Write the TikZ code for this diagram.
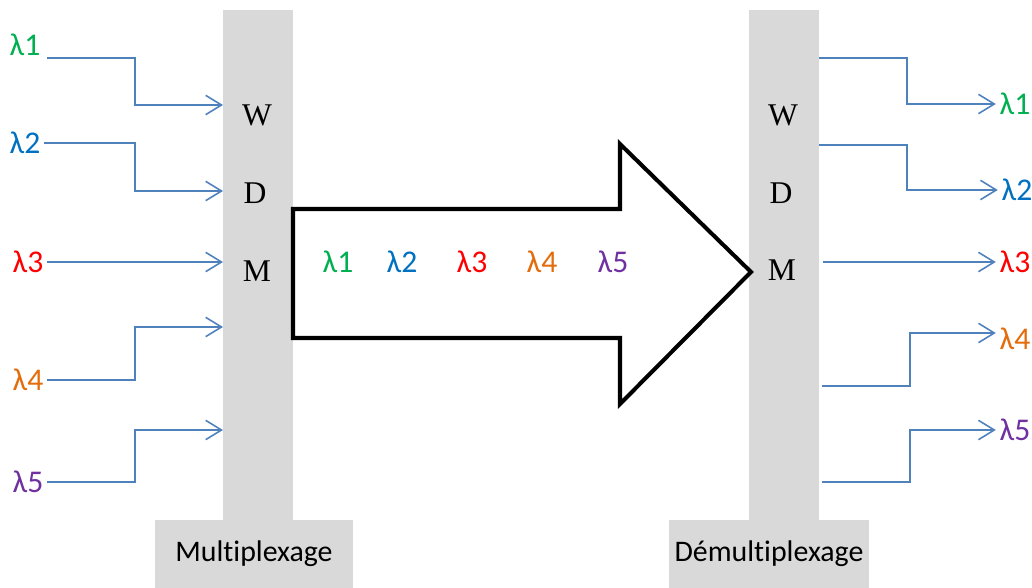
\documentclass[tikz,border=0pt]{standalone}
\usepackage{fontspec}
\setmainfont[Ligatures=NoCommon]{Carlito}
\newfontfamily\wdmfont{Liberation Serif}
\usetikzlibrary{arrows.meta, positioning}
\definecolor{fibreblue}{RGB}{79,129,189}
\definecolor{bargray}{RGB}{217,217,217}
\definecolor{lamone}{RGB}{0,176,80}
\definecolor{lamtwo}{RGB}{0,112,192}
\definecolor{lamthree}{RGB}{255,0,0}
\definecolor{lamfour}{RGB}{228,108,10}
\definecolor{lamfive}{RGB}{112,48,160}

\begin{document}
\begin{tikzpicture}[x=0.02cm,y=-0.02cm,
  fibre/.style={fibreblue,line width=0.9pt,-{Straight Barb[length=9pt,width=11pt]}},
  bar/.style={fill=bargray,inner sep=0pt,minimum width=1.4cm,minimum height=10.2cm},
  foot/.style={fill=bargray,inner sep=0pt,minimum height=1.36cm,font=\fontsize{17}{19}\selectfont},
  lam/.style={font=\fontsize{18}{20}\selectfont,inner sep=2pt},
  letter/.style={font=\wdmfont\fontsize{18}{20}\selectfont}]
\useasboundingbox (0,0) rectangle (1032,588);

% Multiplexer bar
\node[bar] (mux) at (258,265) {};
\node[foot,minimum width=3.96cm] (muxfoot) at (254,554) {Multiplexage};
\node[letter] (mw) at (257,115) {W};
\node[letter] (md) at (255,193) {D};
\node[letter] (mm) at (257,271) {M};

% Demultiplexer bar
\node[bar] (dmx) at (784,265) {};
\node[foot,minimum width=4cm] (dmxfoot) at (769,554) {Démultiplexage};
\node[letter] (dw) at (783,115) {W};
\node[letter] (dd) at (781,193) {D};
\node[letter] (dm) at (782,270) {M};

% Inputs
\node[lam,text=lamone]   (in1) at (25,45)  {λ1};
\node[lam,text=lamtwo]   (in2) at (25,143) {λ2};
\node[lam,text=lamthree] (in3) at (28,262) {λ3};
\node[lam,text=lamfour]  (in4) at (28,380) {λ4};
\node[lam,text=lamfive]  (in5) at (28,482) {λ5};
\coordinate (s1) at (47,58);
\coordinate (m1) at (223,105);
\coordinate (m2) at (223,191);
\coordinate (m3) at (223,262);
\coordinate (m4) at (223,327);
\coordinate (m5) at (223,430);
\draw[fibre] (s1) -| (135,105) -- (m1);
\draw[fibre] (in2.east) -| (135,191) -- (m2);
\draw[fibre] (in3.east) -- (m3);
\draw[fibre] (in4.east) -| (135,327) -- (m4);
\draw[fibre] (in5.east) -| (135,430) -- (m5);

% Outputs
\node[lam,text=lamone]   (out1) at (1015,104) {λ1};
\node[lam,text=lamtwo]   (out2) at (1017,190) {λ2};
\node[lam,text=lamthree] (out3) at (1015,262) {λ3};
\node[lam,text=lamfour]  (out4) at (1015,339) {λ4};
\node[lam,text=lamfive]  (out5) at (1015,430) {λ5};
\coordinate (d1) at (819,58);
\coordinate (d2) at (819,145);
\coordinate (d3) at (823,262);
\coordinate (d4) at (822,386);
\coordinate (d5) at (822,482);
\draw[fibre] (d1) -| (907,104) -- (out1.west);
\draw[fibre] (d2) -| (907,190) -- (out2.west);
\draw[fibre] (d3) -- (out3.west);
\draw[fibre] (d4) -| (910,333) -- (out4.west |- 0,333);
\draw[fibre] (d5) -| (910,430) -- (out5.west);

% Big arrow
\draw[line width=2.3pt,fill=white] (293,209) -- (620,209) -- (620,144) -- (751,272)
  -- (620,404) -- (620,338) -- (293,338) -- cycle;
\node[lam,text=lamone]   (a1) at (338,262) {λ1};
\node[lam,text=lamtwo]   (a2) at (402,262) {λ2};
\node[lam,text=lamthree] (a3) at (472,262) {λ3};
\node[lam,text=lamfour]  (a4) at (542,262) {λ4};
\node[lam,text=lamfive]  (a5) at (613,262) {λ5};
\end{tikzpicture}
\end{document}
